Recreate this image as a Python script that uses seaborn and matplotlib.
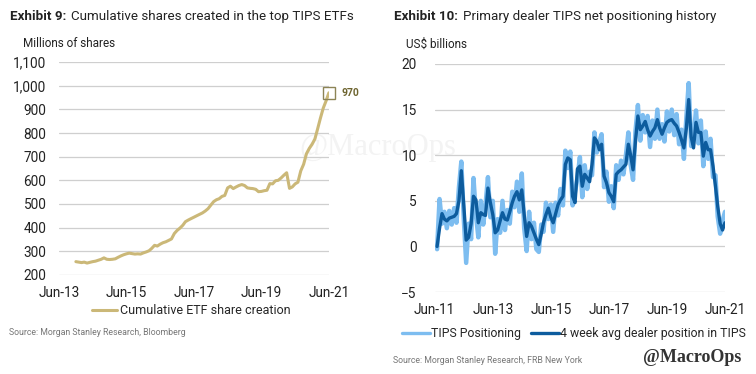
import pandas as pd
import numpy as np
import matplotlib
matplotlib.use("Agg")
import matplotlib.pyplot as plt
import matplotlib.dates as mdates
import seaborn as sns

# ----------------------------------------------
# Data read off the two exhibits
# ----------------------------------------------
# Exhibit 9: cumulative ETF share creation (millions), monthly Dec-13 .. Jun-21
etf_start = "2013-12-01"
etf_shares = [
    256,
    254, 252, 254, 250, 253, 256, 258, 262, 266, 272, 266, 265,
    266, 268, 274, 280, 285, 289, 292, 290, 288, 289, 288, 293,
    297, 302, 312, 325, 322, 330, 336, 340, 346, 352, 375, 388,
    398, 410, 425, 432, 438, 444, 450, 456, 462, 470, 480, 495,
    510, 518, 522, 532, 536, 568, 575, 565, 572, 578, 582, 578,
    568, 566, 565, 562, 552, 553, 556, 558, 586, 585, 598, 600,
    610, 622, 632, 566, 572, 585, 592, 640, 668, 712, 735, 752,
    775, 820, 862, 905, 935, 970,
]
etf_last_label = "970"

# Exhibit 10: primary dealer TIPS positioning (US$ bn), monthly Jul-11 .. Jun-21
dealer_start = "2011-07-01"
tips_positioning = [
    -0.3, 5.2, 2.5, 3.8, 2.0, 3.9,
    2.4, 4.2, 2.6, 6.5, 9.3, 3.0, -1.8, 2.5, 0.8, 7.5, 3.5, 1.0,
    5.0, 2.4, 4.5, 7.6, 3.2, 5.0, -0.8, 3.0, 1.5, 5.0, 1.8, 4.0,
    2.5, 6.0, 4.3, 7.1, 3.8, 8.0, 2.0, -0.5, 3.8, 0.8, 2.6, -0.3,
    -0.6, 2.4, 1.6, 4.8, 3.0, 4.6, 1.6, 4.8, 3.4, 6.3, 4.5, 10.5,
    8.6, 10.4, 4.5, 6.0, 7.5, 9.8, 5.4, 8.9, 6.3, 8.2, 7.8, 12.5,
    10.3, 11.5, 12.3, 6.5, 8.2, 4.9, 6.6, 4.2, 8.9, 7.3, 9.4, 7.9,
    10.0, 12.5, 9.0, 7.3, 12.6, 15.5, 11.6, 14.4, 12.5, 14.3, 10.9, 13.8,
    11.8, 15.0, 11.8, 13.4, 11.5, 14.8, 12.6, 15.0, 12.2, 14.5, 11.2, 12.8,
    9.6, 14.2, 17.9, 11.0, 12.0, 14.9, 11.3, 13.8, 8.8, 12.6, 9.6, 11.8,
    7.6, 7.8, 3.3, 1.4, 2.8, 3.8,
]
dealer_4wk_avg = [
    0.0, 2.0, 3.6, 3.0, 2.8, 3.1,
    3.2, 3.3, 3.6, 5.0, 8.3, 4.5, 0.7, 1.0, 2.5, 5.5, 5.1, 2.6,
    3.7, 3.5, 3.4, 6.4, 4.8, 3.5, 1.5, 1.8, 2.8, 3.7, 3.0, 2.9,
    3.8, 4.8, 5.5, 6.0, 5.1, 6.2, 3.5, 1.1, 2.6, 2.2, 1.5, 0.8,
    0.2, 1.4, 2.6, 3.5, 4.2, 3.2, 2.6, 3.6, 4.6, 5.1, 5.5, 9.0,
    9.7, 9.5, 5.5, 4.8, 8.5, 8.8, 6.6, 7.9, 7.5, 7.1, 9.0, 11.9,
    11.5, 10.6, 11.2, 7.7, 7.0, 5.9, 5.5, 4.9, 7.9, 8.2, 8.4, 8.7,
    9.0, 11.2, 10.0, 8.4, 11.5, 14.3, 12.8, 13.2, 13.7, 12.8, 12.1, 12.6,
    13.0, 13.9, 13.0, 12.3, 13.0, 13.6, 13.8, 13.9, 13.5, 13.2, 12.5, 11.7,
    10.8, 13.0, 16.1, 12.0, 10.8, 13.6, 12.5, 12.5, 9.9, 11.4, 10.6, 10.6,
    8.8, 6.6, 4.4, 2.5, 1.8, 2.6,
]

tick_years = [2011, 2013, 2015, 2017, 2019, 2021]

etf = pd.DataFrame({
    "date": pd.date_range(etf_start, periods=len(etf_shares), freq="MS"),
    "shares": etf_shares,
})
dealer = pd.DataFrame({
    "date": pd.date_range(dealer_start, periods=len(dealer_4wk_avg), freq="MS"),
    "TIPS Positioning": tips_positioning,
    "4 week avg dealer position in TIPS": dealer_4wk_avg,
})

# ----------------------------------------------
# Style
# ----------------------------------------------
sns.set_theme(style="white")
plt.rcParams["font.family"] = ["Roboto", "DejaVu Sans"]

gold = "#CBB878"
light_blue = "#7DBDF0"
dark_blue = "#0D5C9E"
grid_col = "#CFCFCF"
text_col = "#222222"

fig = plt.figure(figsize=(7.56, 3.74), dpi=100)

ax1 = fig.add_axes([0.078, 0.265, 0.357, 0.569])
ax2 = fig.add_axes([0.575, 0.219, 0.384, 0.610])

# faint watermark behind the plots
fig.text(0.50, 0.605, "@MacroOps", ha="center", va="center", fontsize=22,
         family="Liberation Serif", color="#F3F3F3", zorder=-1)

for ax in (ax1, ax2):
    ax.patch.set_alpha(0)
    for s in ax.spines.values():
        s.set_visible(False)
    ax.grid(axis="y", color=grid_col, linewidth=0.9)
    ax.grid(axis="x", visible=False)
    ax.tick_params(axis="both", length=0, labelsize=9.8, colors=text_col)

# ----------------------------------------------
# Exhibit 9
# ----------------------------------------------
sns.lineplot(data=etf, x="date", y="shares", ax=ax1, color=gold, linewidth=2.2,
             label="Cumulative ETF share creation")
last = etf.iloc[-1]
ax1.plot(last["date"], last["shares"], marker="s", markersize=8,
         markerfacecolor="none", markeredgecolor="#8C8456", markeredgewidth=1.0,
         clip_on=False)
ax1.annotate(etf_last_label, (last["date"], last["shares"]), xytext=(9, 0),
             textcoords="offset points", va="center", ha="left", fontsize=7.5,
             fontweight="bold", color="#6E6530")
ax1.set_ylim(200, 1100)
ax1.set_yticks(range(200, 1101, 100))
ax1.yaxis.set_major_formatter(matplotlib.ticker.StrMethodFormatter("{x:,.0f}"))
ax1.set_xlim(pd.Timestamp("2013-06-01"), pd.Timestamp("2021-06-01"))
ax1.set_xticks([pd.Timestamp(f"{y}-06-01") for y in tick_years[1:]])
ax1.xaxis.set_major_formatter(mdates.DateFormatter("Jun-%y"))
ax1.tick_params(axis="y", pad=9)
ax1.tick_params(axis="x", pad=8)
ax1.set_xlabel("")
ax1.set_ylabel("")
ax1.legend(loc="upper center", bbox_to_anchor=(0.49, -0.085), frameon=False,
           fontsize=9.0, handlelength=2.0, handletextpad=0.2)

# ----------------------------------------------
# Exhibit 10
# ----------------------------------------------
dealer_long = dealer.melt(id_vars="date", var_name="series", value_name="value")
sns.lineplot(data=dealer_long, x="date", y="value", hue="series", ax=ax2,
             palette=[light_blue, dark_blue], linewidth=2.2)
ax2.lines[0].set_linewidth(3.2)
ax2.lines[1].set_linewidth(2.4)
ax2.set_ylim(-5, 20)
ax2.set_yticks(range(-5, 21, 5))
ax2.set_xlim(pd.Timestamp("2011-06-01"), pd.Timestamp("2021-06-01"))
ax2.set_xticks([pd.Timestamp(f"{y}-06-01") for y in tick_years])
ax2.xaxis.set_major_formatter(mdates.DateFormatter("Jun-%y"))
ax2.tick_params(axis="y", pad=13)
ax2.tick_params(axis="x", pad=8)
ax2.set_xlabel("")
ax2.set_ylabel("")
handles, labels = ax2.get_legend_handles_labels()
for h in handles:
    h.set_linewidth(2.4)
ax2.legend(handles, labels, loc="upper center", bbox_to_anchor=(0.48, -0.105),
           ncol=2, frameon=False, fontsize=8.8, handlelength=2.3,
           handletextpad=0.1, columnspacing=0.8)

# ----------------------------------------------
# Titles, units, sources
# ----------------------------------------------
def exhibit_title(x, y, bold, rest):
    t = fig.text(x, y, bold, fontsize=9.6, fontweight="bold", color=text_col,
                 va="baseline")
    fig.canvas.draw()
    bb = t.get_window_extent()
    x2 = fig.transFigure.inverted().transform((bb.x1, bb.y0))[0]
    fig.text(x2 + 0.007, y, rest, fontsize=9.6, color=text_col, va="baseline")

exhibit_title(0.013, 0.946, "Exhibit 9:", "Cumulative shares created in the top TIPS ETFs")
exhibit_title(0.521, 0.946, "Exhibit 10:", "Primary dealer TIPS net positioning history")

fig.text(0.030, 0.885, "Millions of shares", fontsize=8.5, color=text_col, va="center")
fig.text(0.537, 0.882, "US$ billions", fontsize=8.5, color=text_col, va="center")

fig.text(0.012, 0.110, "Source: Morgan Stanley Research, Bloomberg", fontsize=6.3,
         color="#777777", va="center")
fig.text(0.520, 0.035, "Source: Morgan Stanley Research, FRB New York", fontsize=6.3,
         color="#777777", va="center")
fig.text(0.980, 0.045, "@MacroOps", fontsize=13, fontweight="bold",
         family="Liberation Serif", color="#333333", ha="right", va="center")

fig.savefig("out.png", dpi=100)
